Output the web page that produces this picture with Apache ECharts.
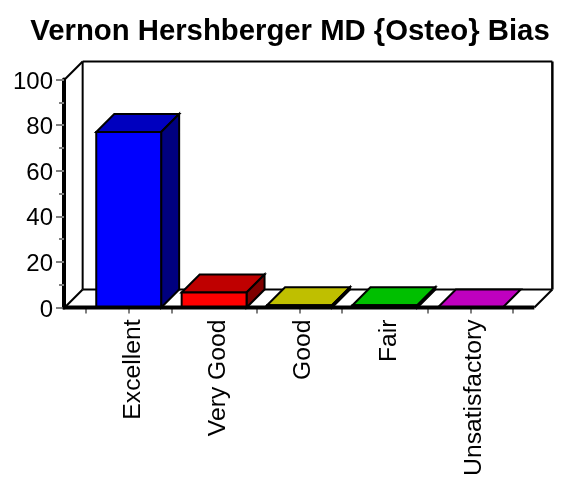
<!DOCTYPE html>
<html>
<head>
<meta charset="utf-8">
<title>Vernon Hershberger MD {Osteo} Bias</title>
<style>
  html, body { margin: 0; padding: 0; background: #fff; }
  #chart { width: 565px; height: 477px; }
</style>
<script src="https://cdn.jsdelivr.net/npm/echarts@6/dist/echarts.min.js"></script>
</head>
<body>
<div id="chart"></div>
<script>
const titleText = 'Vernon Hershberger MD {Osteo} Bias';
const categories = ['Excellent', 'Very Good', 'Good', 'Fair', 'Unsatisfactory'];
const values = [77, 6.6, 1, 1, 0];

// front / top / side of each bar
const frontColors = ['#0000ff', '#ff0000', '#ffff00', '#00ff00', '#ff00ff'];
const topColors = ['#0000bf', '#bf0000', '#bfbf00', '#00bf00', '#bf00bf'];
const sideColors = ['#00007f', '#7f0000', '#7f7f00', '#007f00', '#7f007f'];

const FONT = '"Liberation Sans", Arial, sans-serif';
const DEPTH = 18;
const BAR_RATIO = 0.76;

function poly(points, fill, lineWidth) {
  return {
    type: 'polygon',
    shape: { points: points },
    style: { fill: fill, stroke: '#000', lineWidth: lineWidth || 2, lineJoin: 'miter' }
  };
}

function line(x1, y1, x2, y2, lineWidth) {
  return {
    type: 'line',
    shape: { x1: x1, y1: y1, x2: x2, y2: y2 },
    style: { stroke: '#000', lineWidth: lineWidth }
  };
}

// floor and walls, taken from the axis scales
function renderFrame(params, api) {
  const band = api.size([1, 0])[0];
  const left = params.coordSys.x - band / 4;
  const right = params.coordSys.x + params.coordSys.width + band / 4;
  const y0 = api.coord([0, 0])[1];
  const y100 = api.coord([0, 100])[1];
  return {
    type: 'group',
    children: [
      line(left, y100, left + DEPTH, y100 - DEPTH, 2),
      line(left + DEPTH, y100 - DEPTH, right + DEPTH, y100 - DEPTH, 2),
      line(right + DEPTH, y100 - DEPTH, right + DEPTH, y0 - DEPTH, 2.5),
      line(left + DEPTH, y100 - DEPTH, left + DEPTH, y0 - DEPTH, 2),
      line(left + DEPTH, y0 - DEPTH, right + DEPTH, y0 - DEPTH, 2),
      line(left, y0, left + DEPTH, y0 - DEPTH, 2),
      line(right, y0, right + DEPTH, y0 - DEPTH, 2)
    ]
  };
}

function renderBar(params, api) {
  const i = api.value(0);
  const p = api.coord([i, api.value(1)]);
  const y0 = api.coord([i, 0])[1];
  const w = api.size([1, 0])[0] * BAR_RATIO;
  const x1 = p[0] - w / 2;
  const x2 = p[0] + w / 2;
  const top = p[1];
  const children = [
    poly([[x1, top], [x1 + DEPTH, top - DEPTH], [x2 + DEPTH, top - DEPTH], [x2, top]], topColors[i])
  ];
  if (y0 - top > 2) {
    children.push(poly([[x2, top], [x2 + DEPTH, top - DEPTH], [x2 + DEPTH, y0 - DEPTH], [x2, y0]], sideColors[i]));
    children.push(poly([[x1, top], [x2, top], [x2, y0], [x1, y0]], frontColors[i]));
  }
  return { type: 'group', children: children };
}

function renderBase(params, api) {
  const band = api.size([1, 0])[0];
  const left = params.coordSys.x - band / 4;
  const right = params.coordSys.x + params.coordSys.width + band / 4;
  const y0 = api.coord([0, 0])[1];
  return line(left - 2, y0, right, y0, 4);
}

const chart = echarts.init(document.getElementById('chart'));
chart.setOption({
  animation: false,
  backgroundColor: '#fff',
  title: {
    text: titleText,
    left: 285,
    top: 12,
    textAlign: 'center',
    textStyle: { fontFamily: FONT, fontSize: 29.3, fontWeight: 'bold', color: '#000' }
  },
  grid: { left: 86, top: 79.5, width: 427, height: 228, outerBoundsMode: 'none' },
  xAxis: [
    {
      type: 'category',
      data: categories,
      axisLine: { show: false },
      axisTick: { show: true, length: 6, lineStyle: { color: '#808080', width: 2 } },
      axisLabel: {
        rotate: 90,
        margin: 12,
        interval: 0,
        verticalAlign: 'top',
        lineHeight: 8,
        fontFamily: FONT,
        fontSize: 24.7,
        color: '#000'
      }
    },
    {
      type: 'category',
      position: 'bottom',
      data: categories,
      axisLine: { show: false },
      axisTick: { show: true, alignWithLabel: true, length: 6, lineStyle: { color: '#808080', width: 2 } },
      axisLabel: { show: false }
    }
  ],
  yAxis: {
    type: 'value',
    min: 0,
    max: 100,
    interval: 20,
    offset: 22,
    axisLine: { show: true, lineStyle: { color: '#000', width: 4 } },
    axisTick: { show: true, length: 8, lineStyle: { color: '#808080', width: 2 } },
    minorTick: { show: true, splitNumber: 2, length: 5, lineStyle: { color: '#808080', width: 2 } },
    splitLine: { show: false },
    axisLabel: { margin: 11, verticalAlign: 'top', lineHeight: 5, fontFamily: FONT, fontSize: 24, color: '#000' }
  },
  series: [
    { type: 'custom', name: 'frame', z: 1, clip: false, silent: true, renderItem: renderFrame, data: [[0, 0]] },
    {
      type: 'custom',
      name: 'bars',
      z: 2,
      clip: false,
      renderItem: renderBar,
      encode: { x: 0, y: 1 },
      data: values.map(function (v, i) { return [i, v]; })
    },
    { type: 'custom', name: 'base', z: 3, clip: false, silent: true, renderItem: renderBase, data: [[0, 0]] }
  ]
});
</script>
</body>
</html>
